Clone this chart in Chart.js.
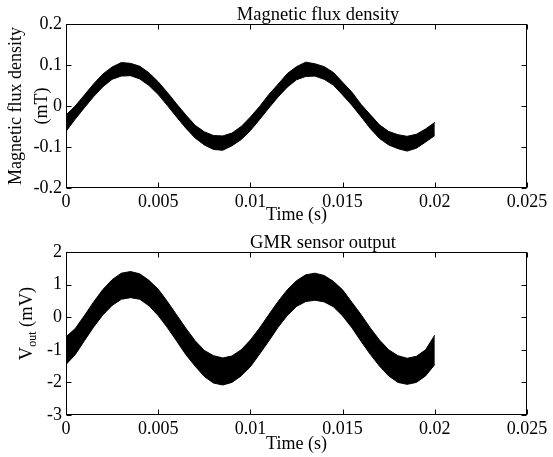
<!DOCTYPE html>
<html>
<head>
<meta charset="utf-8">
<script src="https://cdn.jsdelivr.net/npm/chart.js@4.4.1/dist/chart.umd.min.js"></script>
<style>
    body { margin: 0; background: #fff; }
    #wrap { position: relative; width: 553px; height: 457px; }
    canvas { position: absolute; left: 0; }
</style>
</head>
<body>
<div id="wrap">
    <canvas id="flux-chart" width="553" height="228" style="top:0"></canvas>
    <canvas id="gmr-chart" width="553" height="229" style="top:228px"></canvas>
</div>
<script>
// sample times (s)
const timeS = [0, 0.0005, 0.001, 0.0015, 0.002, 0.0025, 0.003, 0.0035, 0.004, 0.0045,
    0.005, 0.0055, 0.006, 0.0065, 0.007, 0.0075, 0.008, 0.0085, 0.009, 0.0095,
    0.01, 0.0105, 0.011, 0.0115, 0.012, 0.0125, 0.013, 0.0135, 0.014, 0.0145,
    0.015, 0.0155, 0.016, 0.0165, 0.017, 0.0175, 0.018, 0.0185, 0.019, 0.0195, 0.02];

// noise band of the flux signal, upper / lower edge (mT)
const fluxUpper = [-0.022, 0.000, 0.027, 0.054, 0.078, 0.095, 0.106, 0.104, 0.097, 0.081,
    0.059, 0.033, 0.005, -0.022, -0.047, -0.063, -0.072, -0.073, -0.066, -0.050,
    -0.027, -0.001, 0.028, 0.053, 0.079, 0.096, 0.107, 0.103, 0.096, 0.082,
    0.058, 0.034, 0.004, -0.021, -0.046, -0.062, -0.070, -0.074, -0.069, -0.056, -0.040];
const fluxLower = [-0.062, -0.032, -0.004, 0.023, 0.047, 0.065, 0.073, 0.074, 0.066, 0.050,
    0.028, 0.001, -0.027, -0.054, -0.078, -0.095, -0.106, -0.108, -0.097, -0.082,
    -0.060, -0.033, -0.005, 0.022, 0.046, 0.064, 0.072, 0.073, 0.065, 0.051,
    0.027, 0.002, -0.026, -0.055, -0.079, -0.095, -0.104, -0.110, -0.103, -0.088, -0.072];

// noise band of the GMR output, upper / lower edge (mV)
const gmrUpper = [-0.60, -0.35, 0.05, 0.47, 0.85, 1.15, 1.35, 1.40, 1.33, 1.13,
    0.86, 0.48, 0.07, -0.34, -0.72, -1.02, -1.18, -1.25, -1.19, -1.00,
    -0.70, -0.33, 0.08, 0.48, 0.84, 1.12, 1.30, 1.35, 1.28, 1.10,
    0.84, 0.46, 0.08, -0.33, -0.70, -1.00, -1.18, -1.26, -1.20, -1.00, -0.55];
const gmrLower = [-1.45, -1.15, -0.72, -0.30, 0.07, 0.36, 0.55, 0.60, 0.55, 0.35,
    0.05, -0.32, -0.73, -1.15, -1.50, -1.82, -2.02, -2.08, -2.00, -1.80,
    -1.52, -1.13, -0.73, -0.31, 0.05, 0.33, 0.48, 0.52, 0.47, 0.32,
    0.04, -0.32, -0.74, -1.14, -1.50, -1.80, -2.00, -2.06, -2.00, -1.80, -1.45];

// tick labels
const timeTicks = [0, 0.005, 0.01, 0.015, 0.02, 0.025];
const fluxTicks = [-0.2, -0.1, 0, 0.1, 0.2];
const gmrTicks = [-3, -2, -1, 0, 1, 2];

const FONT = "'Liberation Serif', 'Times New Roman', serif";
Chart.defaults.font.family = FONT;
Chart.defaults.color = '#000';

// matlab style box with inward ticks, plus title (and subscript y label)
const matlabBox = {
    id: 'matlabBox',
    afterDraw(chart, args, opts) {
        const {ctx, chartArea: a, scales} = chart;
        const L = Math.round(a.left) + 0.5, R = Math.round(a.right) - 0.5;
        const T = Math.round(a.top) + 0.5, B = Math.round(a.bottom) - 0.5;
        ctx.save();
        ctx.strokeStyle = '#000';
        ctx.lineWidth = 1;
        ctx.strokeRect(L, T, R - L, B - T);
        ctx.beginPath();
        scales.x.ticks.forEach(t => {
            const px = Math.round(scales.x.getPixelForValue(t.value)) + 0.5;
            ctx.moveTo(px, B); ctx.lineTo(px, B - 5);
            ctx.moveTo(px, T); ctx.lineTo(px, T + 5);
        });
        scales.y.ticks.forEach(t => {
            const py = Math.round(scales.y.getPixelForValue(t.value)) + 0.5;
            ctx.moveTo(L, py); ctx.lineTo(L + 5, py);
            ctx.moveTo(R, py); ctx.lineTo(R - 5, py);
        });
        ctx.stroke();

        ctx.fillStyle = '#000';
        ctx.font = '18.5px ' + FONT;
        ctx.textAlign = 'center';
        ctx.textBaseline = 'alphabetic';
        ctx.fillText(opts.title, opts.titleX, a.top - 4);

        if (opts.ySub) {
            const big = '18.5px ' + FONT, small = '12px ' + FONT;
            ctx.font = big;
            const w1 = ctx.measureText(opts.yMain).width;
            const w3 = ctx.measureText(opts.yRest).width;
            ctx.font = small;
            const w2 = ctx.measureText(opts.ySub).width;
            const total = w1 + w2 + w3;
            ctx.translate(opts.yLabelX, (a.top + a.bottom) / 2 + opts.yLabelShift);
            ctx.rotate(-Math.PI / 2);
            ctx.textAlign = 'left';
            ctx.textBaseline = 'middle';
            let x = -total / 2;
            ctx.font = big;
            ctx.fillText(opts.yMain, x, 0);
            x += w1;
            ctx.font = small;
            ctx.fillText(opts.ySub, x, 6);
            x += w2;
            ctx.font = big;
            ctx.fillText(opts.yRest, x, 0);
        }
        ctx.restore();
    }
};

function bandChart(canvasId, upper, lower, yTicks, boxOpts, yTitle, xHeight) {
    return new Chart(document.getElementById(canvasId), {
        type: 'line',
        data: {
            datasets: [
                {
                    data: timeS.map((t, i) => ({x: t, y: upper[i]})),
                    borderColor: '#000',
                    backgroundColor: '#000',
                    borderWidth: 1,
                    pointRadius: 0,
                    tension: 0,
                    fill: '+1'
                },
                {
                    data: timeS.map((t, i) => ({x: t, y: lower[i]})),
                    borderColor: '#000',
                    borderWidth: 1,
                    pointRadius: 0,
                    tension: 0,
                    fill: false
                }
            ]
        },
        options: {
            responsive: false,
            animation: false,
            layout: { padding: { top: 24, right: 26, left: 0, bottom: 0 } },
            plugins: {
                legend: { display: false },
                tooltip: { enabled: false },
                matlabBox: boxOpts
            },
            scales: {
                x: {
                    type: 'linear',
                    min: timeTicks[0],
                    max: timeTicks[timeTicks.length - 1],
                    afterBuildTicks: s => { s.ticks = timeTicks.map(v => ({value: v})); },
                    afterFit: s => { s.height = xHeight; },
                    grid: { display: false, drawTicks: false },
                    border: { display: false },
                    ticks: {
                        font: { size: 18 },
                        padding: 3,
                        maxRotation: 0,
                        autoSkip: false,
                        callback: v => String(v)
                    },
                    title: {
                        display: true,
                        text: 'Time (s)',
                        font: { size: 18 },
                        padding: { top: 0, bottom: 2 }
                    }
                },
                y: {
                    min: yTicks[0],
                    max: yTicks[yTicks.length - 1],
                    afterBuildTicks: s => { s.ticks = yTicks.map(v => ({value: v})); },
                    afterFit: s => { s.width = 66; },
                    grid: { display: false, drawTicks: false },
                    border: { display: false },
                    ticks: {
                        font: { size: 18 },
                        padding: 4,
                        autoSkip: false,
                        callback: v => String(v)
                    },
                    title: yTitle
                }
            }
        },
        plugins: [matlabBox]
    });
}

const fluxChart = bandChart('flux-chart', fluxUpper, fluxLower, fluxTicks,
    { title: 'Magnetic flux density', titleX: 318 },
    {
        display: true,
        text: ['Magnetic flux density', '(mT)'],
        font: { size: 18, lineHeight: 1.45 },
        padding: { top: 3, bottom: 0 }
    }, 40);

const gmrChart = bandChart('gmr-chart', gmrUpper, gmrLower, gmrTicks,
    { title: 'GMR sensor output', titleX: 323, yMain: 'V', ySub: 'out', yRest: ' (mV)', yLabelX: 27, yLabelShift: -10 },
    { display: false }, 42);
</script>
</body>
</html>
